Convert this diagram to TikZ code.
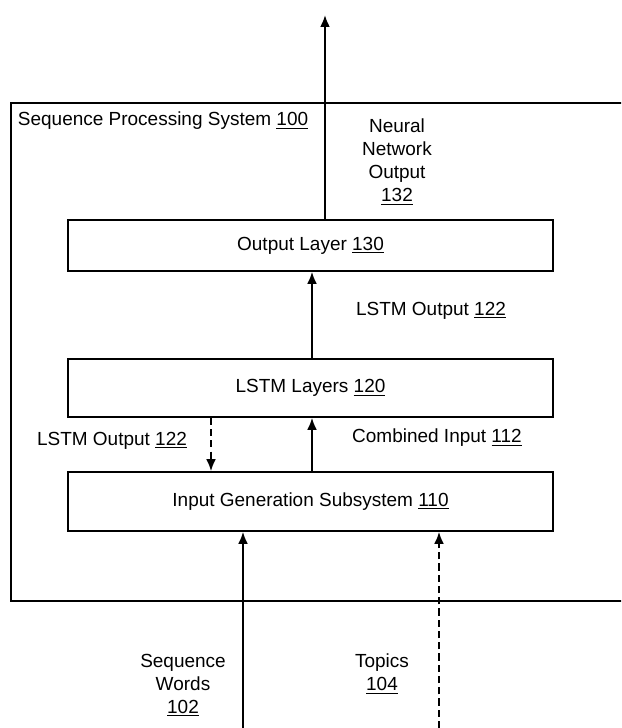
\documentclass[tikz,border=0pt]{standalone}
\usepackage{fontspec}
\setmainfont{Liberation Sans}
\usepackage{tikz}
\usetikzlibrary{calc,arrows.meta}

\begin{document}
\begin{tikzpicture}
	[   x=0.025cm,y=-0.025cm,
	    bnode/.style={draw=black,line width=1.2pt,fill=white,minimum width=12.125cm,minimum height=#1,inner sep=0pt},
	    font=\fontsize{13.5}{16.4}\selectfont,
	]
	\tikzset{normal arrow/.style={draw,line width=1.4pt,-{Latex[length=8.5pt,width=7pt]}}}
	\tikzset{dashed arrow/.style={normal arrow,dash pattern=on 5pt off 3pt}}
	\clip (0,0) rectangle (621,728);
	
	% system box, its right side runs off the page
	\draw[line width=1.2pt] (640,103) -- (11,103) -- (11,601) -- (640,601);
	
	\node[bnode=1.275cm] (out) at (310.5,245.5) {Output Layer \underline{130}};
	\node[bnode=1.45cm] (lstm) at (310.5,388) {LSTM Layers \underline{120}};
	\node[bnode=1.475cm] (gen) at (310.5,501.5) {Input Generation Subsystem \underline{110}};
	
	\node[anchor=west] (sys) at (13,121) {Sequence Processing System \underline{100}};
	\node[align=center] (nno) at (397,162) {Neural\\Network\\Output\\\underline{132}};
	\node (lo-1) at (431,311) {LSTM Output \underline{122}};
	\node (lo-2) at (112,441) {LSTM Output \underline{122}};
	\node (ci) at (437,438) {Combined Input \underline{112}};
	\node[align=center] (words) at (183,685) {Sequence\\Words\\\underline{102}};
	\node[align=center] (topics) at (382,674) {Topics\\\underline{104}};
	
	\coordinate (top) at (325,15);
	\coordinate (mid) at (312,0);
	\coordinate (fb) at (211,0);
	\coordinate (sw) at (243,728);
	\coordinate (tp) at (439,728);
	
	\path[normal arrow] (out.north -| top) -- (top);
	\path[normal arrow] (lstm.north -| mid) -- (out.south -| mid);
	\path[normal arrow] (gen.north -| mid) -- (lstm.south -| mid);
	\path[dashed arrow] (lstm.south -| fb) -- (gen.north -| fb);
	\path[normal arrow] (sw) -- (gen.south -| sw);
	\path[dashed arrow] (tp) -- (gen.south -| tp);
\end{tikzpicture}
\end{document}
